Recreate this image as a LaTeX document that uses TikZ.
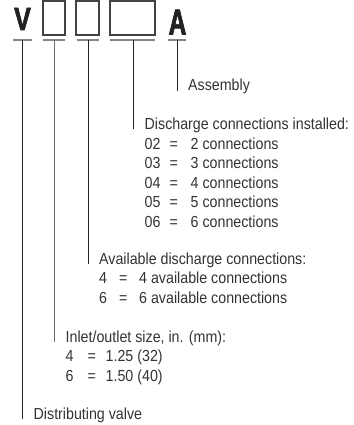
\documentclass[tikz,border=0pt]{standalone}
\usepackage{fontspec}
\setmainfont{Liberation Sans}[FakeStretch=0.89]
\newfontfamily\vfont{Liberation Sans Bold}[FakeStretch=0.78,FakeBold=2]
\newfontfamily\afont{Liberation Sans Bold}[FakeStretch=0.68,FakeBold=2]
\definecolor{txt}{HTML}{333333}
\definecolor{dk}{HTML}{222222}
\definecolor{ul}{HTML}{858585}
\begin{document}
\begin{tikzpicture}[x=1pt,y=-1pt,
  lbl/.style={anchor=base west,inner sep=0pt,text=txt,font=\fontsize{16}{19.5}\selectfont},
  big/.style={anchor=base,inner sep=0pt,text=dk},
  slot/.style={draw=dk!85,line width=1.3pt,inner sep=0pt,minimum height=34pt},
  uline/.style={draw=ul,line width=1.6pt},
  conn/.style={draw=dk,line width=0.8pt}]
\useasboundingbox (0,0) rectangle (353,425);
% code characters
\node[big,font=\vfont\fontsize{32}{32}\selectfont] (v) at (22.5,30) {V};
\node[slot,minimum width=22pt] (b1) at (54,18) {};
\node[slot,minimum width=23pt] (b2) at (87.5,18) {};
\node[slot,minimum width=45pt] (b3) at (132.5,18) {};
\node[big,font=\afont\fontsize{36}{36}\selectfont] (a) at (177.5,34.5) {A};
% underlines
\coordinate (uvl) at (13,40);  \coordinate (uvr) at (32,40);
\coordinate (u1l) at (43,40);  \coordinate (u1r) at (65,40);
\coordinate (u2l) at (76.5,40); \coordinate (u2r) at (98.5,40);
\coordinate (u3l) at (110,40); \coordinate (u3r) at (155,40);
\coordinate (ual) at (168,40); \coordinate (uar) at (186,40);
\path[uline] (uvl) -- (uvr) (u1l) -- (u1r) (u2l) -- (u2r) (u3l) -- (u3r) (ual) -- (uar);
\coordinate (cv) at (22,40);
\coordinate (c1) at (54,40);
\coordinate (c2) at (88,40);
\coordinate (c3) at (133,40);
\coordinate (ca) at (177,40);
% labels
\node[lbl] (asm) at (188,91) {Assembly};
\node[lbl] (dis) at (144.5,129) {Discharge connections installed:};
\node[lbl] (d2) at (144.5,149) {\makebox[25pt][l]{02}\makebox[21pt][l]{=}2 connections};
\node[lbl] (d3) at (144.5,168.5) {\makebox[25pt][l]{03}\makebox[21pt][l]{=}3 connections};
\node[lbl] (d4) at (144.5,188) {\makebox[25pt][l]{04}\makebox[21pt][l]{=}4 connections};
\node[lbl] (d5) at (144.5,207.5) {\makebox[25pt][l]{05}\makebox[21pt][l]{=}5 connections};
\node[lbl] (d6) at (144.5,227) {\makebox[25pt][l]{06}\makebox[21pt][l]{=}6 connections};
\node[lbl] (av) at (99,264) {Available discharge connections:};
\node[lbl] (av4) at (99,283.5) {\makebox[20pt][l]{4}\makebox[20pt][l]{=}4 available connections};
\node[lbl] (av6) at (99,303) {\makebox[20pt][l]{6}\makebox[20pt][l]{=}6 available connections};
\node[lbl] (in) at (65.5,342) {Inlet/outlet size, in. (mm):};
\node[lbl] (in4) at (65.5,361.5) {\makebox[22pt][l]{4}\makebox[18pt][l]{=}1.25 (32)};
\node[lbl] (in6) at (65.5,381) {\makebox[22pt][l]{6}\makebox[18pt][l]{=}1.50 (40)};
\node[lbl] (dv) at (33.5,419) {Distributing valve};
% connectors
\path[conn] (ca) -- (ca |- asm.base);
\path[conn] (c3) -- (c3 |- dis.base);
\path[conn] (c2) -- (c2 |- av.base);
\path[conn,draw=ul!120] (c1) -- (c1 |- in.base);
\path[conn] (cv) -- (cv |- dv.base);
\end{tikzpicture}
\end{document}
